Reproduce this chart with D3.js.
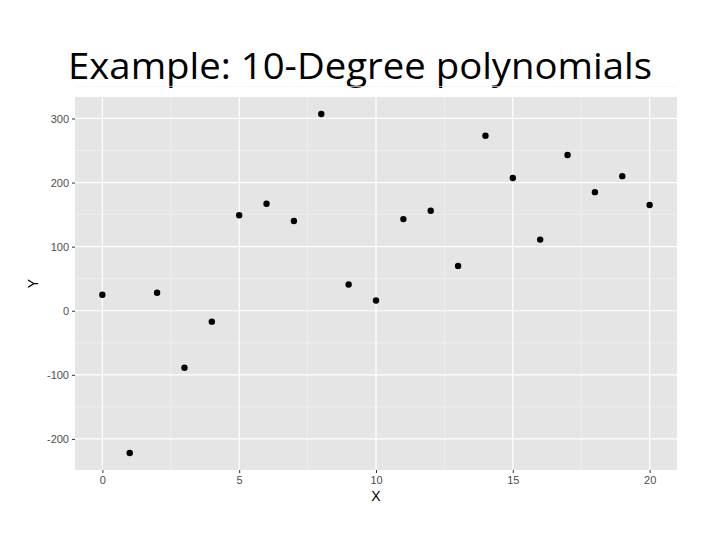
<!DOCTYPE html>
<html lang="en">
<head>
<meta charset="utf-8">
<title>Example: 10-Degree polynomials</title>
<script src="https://d3js.org/d3.v7.min.js"></script>
<style>
  body { margin: 0; background: #fff; }
  .tick text { fill: #4d4d4d; font-size: 11px; font-family: "Liberation Sans", Arial, sans-serif; }
  .tick line { stroke: #333; }
</style>
</head>
<body>
<div id="chart"></div>
<script>
const xs = [0, 1, 2, 3, 4, 5, 6, 7, 8, 9, 10, 11, 12, 13, 14, 15, 16, 17, 18, 19, 20];
const ys = [25, -222, 28, -89, -17, 149, 167, 140, 307, 41, 16, 143, 156, 70, 273, 207, 111, 243, 185, 210, 165];
const xTicks = [0, 5, 10, 15, 20];
const yTicks = [-200, -100, 0, 100, 200, 300];

const width = 720, height = 540;
const margin = {top: 97, right: 43, bottom: 70, left: 75};

const svg = d3.select("#chart").append("svg")
    .attr("width", width)
    .attr("height", height);

const x = d3.scaleLinear()
    .domain([-1, 21])
    .range([margin.left, width - margin.right]);
const y = d3.scaleLinear()
    .domain([-248.5, 333.5])
    .range([height - margin.bottom, margin.top]);

// title
svg.append("text")
    .attr("x", 360)
    .attr("y", 79)
    .attr("text-anchor", "middle")
    .attr("textLength", 584)
    .attr("lengthAdjust", "spacingAndGlyphs")
    .style("font-family", "'Open Sans', 'Liberation Sans', sans-serif")
    .style("font-size", "36px")
    .style("fill", "#000")
    .text("Example: 10-Degree polynomials");

// panel
svg.append("rect")
    .attr("x", x.range()[0])
    .attr("y", y.range()[1])
    .attr("width", x.range()[1] - x.range()[0])
    .attr("height", y.range()[0] - y.range()[1])
    .attr("fill", "#e5e5e5");

const minorX = xTicks.slice(0, -1).map((d, i) => (d + xTicks[i + 1]) / 2);
const minorY = yTicks.map(d => d + 50);

const grid = svg.append("g");
grid.selectAll(".minor-x").data(minorX).join("line")
    .attr("x1", d => x(d)).attr("x2", d => x(d))
    .attr("y1", y.range()[0]).attr("y2", y.range()[1])
    .attr("stroke", "#f2f2f2").attr("stroke-width", 0.7);
grid.selectAll(".minor-y").data(minorY).join("line")
    .attr("y1", d => y(d)).attr("y2", d => y(d))
    .attr("x1", x.range()[0]).attr("x2", x.range()[1])
    .attr("stroke", "#f2f2f2").attr("stroke-width", 0.7);
grid.selectAll(".major-x").data(xTicks).join("line")
    .attr("x1", d => x(d)).attr("x2", d => x(d))
    .attr("y1", y.range()[0]).attr("y2", y.range()[1])
    .attr("stroke", "#fff").attr("stroke-width", 1.2);
grid.selectAll(".major-y").data(yTicks).join("line")
    .attr("y1", d => y(d)).attr("y2", d => y(d))
    .attr("x1", x.range()[0]).attr("x2", x.range()[1])
    .attr("stroke", "#fff").attr("stroke-width", 1.2);

// axes (plain hyphen for negatives, as in the original)
const fmt = d => String(d);
svg.append("g")
    .attr("transform", `translate(0,${y.range()[0]})`)
    .call(d3.axisBottom(x).tickValues(xTicks).tickFormat(fmt).tickSize(3).tickPadding(3))
    .call(g => g.select(".domain").remove());

svg.append("g")
    .attr("transform", `translate(${x.range()[0]},0)`)
    .call(d3.axisLeft(y).tickValues(yTicks).tickFormat(fmt).tickSize(3).tickPadding(3))
    .call(g => g.select(".domain").remove());

// axis titles
svg.append("text")
    .attr("x", (x.range()[0] + x.range()[1]) / 2)
    .attr("y", 501)
    .attr("text-anchor", "middle")
    .style("font-family", "'Liberation Sans', Arial, sans-serif")
    .style("font-size", "14px")
    .text("X");

svg.append("text")
    .attr("transform", `translate(38,${(y.range()[0] + y.range()[1]) / 2}) rotate(-90)`)
    .attr("text-anchor", "middle")
    .style("font-family", "'Liberation Sans', Arial, sans-serif")
    .style("font-size", "14px")
    .text("Y");

// points
svg.append("g")
  .selectAll("circle")
  .data(xs.map((d, i) => ({x: d, y: ys[i]})))
  .join("circle")
    .attr("cx", d => x(d.x))
    .attr("cy", d => y(d.y))
    .attr("r", 3.2)
    .attr("fill", "#000");
</script>
</body>
</html>
